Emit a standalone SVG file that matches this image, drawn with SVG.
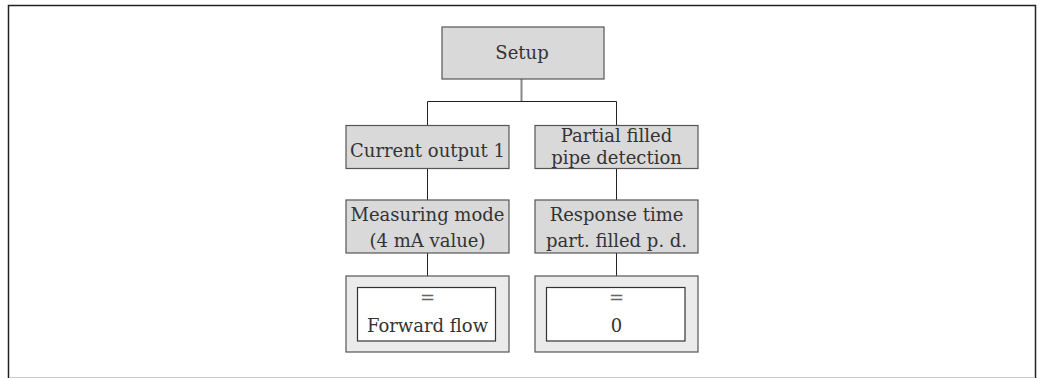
<svg xmlns="http://www.w3.org/2000/svg" width="1043" height="378" viewBox="0 0 1043 378">
<style>
.frame{fill:none;stroke:#222;stroke-width:1.5}
.box{fill:#d9d9d9;stroke:#555;stroke-width:1.2}
.outer{fill:#ebebeb;stroke:#555;stroke-width:1.2}
.inner{fill:#fff;stroke:#333;stroke-width:1.2}
.t{font-family:"DejaVu Serif","Liberation Serif",serif;font-size:18px;fill:#333;text-anchor:middle}
.eq{font-family:"DejaVu Serif","Liberation Serif",serif;font-size:18px;fill:#666;text-anchor:middle}
.c{fill:none;stroke:#222;stroke-width:1}
.cg{fill:none;stroke:#888;stroke-width:2}
</style>
<rect x="0" y="0" width="1043" height="378" fill="#fff"/>
<path class="frame" d="M8.5,378 V5.5 H1035.5 V378"/>
<line x1="9" y1="377.5" x2="1035" y2="377.5" stroke="#c8c8c8" stroke-width="1"/>
<g id="connectors">
<line class="cg" x1="521.5" y1="79" x2="521.5" y2="101.5"/>
<path class="c" d="M427.5,125 V101.5 H616.5 V125"/>
<line class="c" x1="427.5" y1="168" x2="427.5" y2="200"/>
<line class="c" x1="616.5" y1="168" x2="616.5" y2="200"/>
<line class="c" x1="427.5" y1="253" x2="427.5" y2="276"/>
<line class="c" x1="616.5" y1="253" x2="616.5" y2="276"/>
</g>
<g id="setup">
<rect class="box" x="442" y="27" width="162" height="52"/>
<text class="t" x="522" y="59">Setup</text>
</g>
<g id="current-output">
<rect class="box" x="346" y="125.5" width="163" height="43"/>
<text class="t" x="427.5" y="157">Current output 1</text>
</g>
<g id="partial-filled">
<rect class="box" x="535" y="125.5" width="163" height="43"/>
<text class="t" x="616.5" y="142">Partial filled</text>
<text class="t" x="616.5" y="163.5">pipe detection</text>
</g>
<g id="measuring-mode">
<rect class="box" x="346" y="200" width="163" height="53"/>
<text class="t" x="427.5" y="221">Measuring mode</text>
<text class="t" x="427.5" y="247">(4 mA value)</text>
</g>
<g id="response-time">
<rect class="box" x="535" y="200" width="163" height="53"/>
<text class="t" x="616.5" y="221">Response time</text>
<text class="t" x="616.5" y="247">part. filled p. d.</text>
</g>
<g id="forward-flow">
<rect class="outer" x="346" y="276" width="163" height="76"/>
<rect class="inner" x="357.5" y="287.5" width="138" height="53.5"/>
<text class="eq" x="427.5" y="304">=</text>
<text class="t" x="427.5" y="332">Forward flow</text>
</g>
<g id="value-zero">
<rect class="outer" x="535" y="276" width="163" height="76"/>
<rect class="inner" x="546.5" y="287.5" width="138.5" height="53.5"/>
<text class="eq" x="616.5" y="304">=</text>
<text class="t" x="616.5" y="332">0</text>
</g>
</svg>
